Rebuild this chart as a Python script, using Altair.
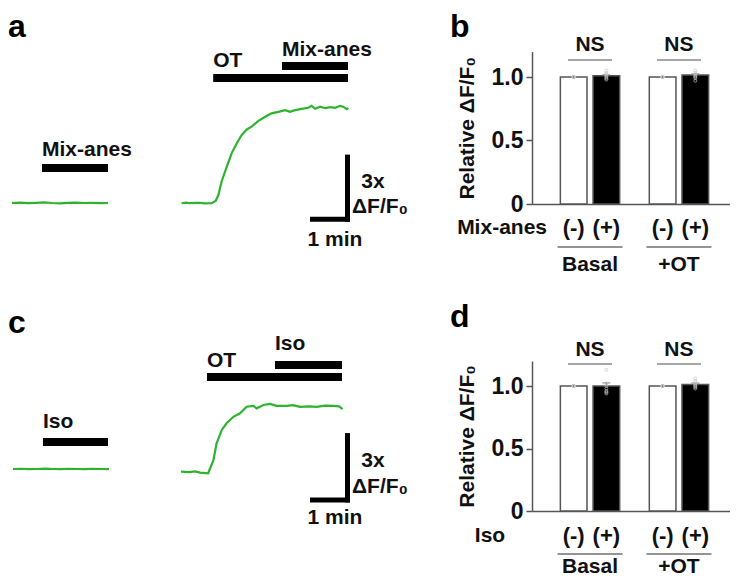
import altair as alt
import pandas as pd

FONT = "Liberation Sans"
INK = "#111111"
GRAY = "#555555"
GREEN = "#2eb32e"
W, H = 722, 568

# ---------------- data ----------------
# panel a : traces (time in min, dF/F0)
a_basal_t = [0.0, 0.2, 0.4, 0.6, 0.8, 1.0, 1.2, 1.4, 1.6, 1.8, 2.0, 2.2, 2.4]
a_basal_v = [0.00, 0.02, -0.01, 0.01, 0.03, 0.00, -0.02, 0.01, 0.02, 0.00, 0.01, -0.01, 0.00]
a_ot_t = [4.24, 4.35, 4.45, 4.575, 4.70, 4.80, 4.99, 5.09, 5.16, 5.24, 5.37, 5.49, 5.62, 5.74,
          5.87, 5.99, 6.16, 6.33, 6.49, 6.66, 6.83, 6.95, 7.08, 7.24, 7.41, 7.49, 7.58, 7.70,
          7.83, 7.95, 8.08, 8.20, 8.28, 8.37, 8.41]
a_ot_v = [-0.01, 0.02, -0.01, 0.01, 0.01, -0.02, -0.01, 0.09, 0.37, 1.00, 1.69, 2.31, 2.78, 3.16,
          3.42, 3.55, 3.82, 4.01, 4.17, 4.24, 4.32, 4.24, 4.32, 4.38, 4.43, 4.52, 4.38, 4.48,
          4.41, 4.46, 4.43, 4.52, 4.48, 4.36, 4.41]
a_drugs = ["Mix-anes", "OT", "Mix-anes"]
a_drug_start = [0.75, 5.03, 6.75]
a_drug_end = [2.40, 8.40, 8.40]

# panel c : traces
c_basal_t = [0.0, 0.2, 0.4, 0.6, 0.8, 1.0, 1.2, 1.4, 1.6, 1.8, 2.0, 2.2, 2.4]
c_basal_v = [0.09, 0.10, 0.08, 0.09, 0.11, 0.09, 0.08, 0.10, 0.09, 0.08, 0.10, 0.09, 0.08]
c_ot_t = [4.20, 4.40, 4.55, 4.675, 4.88, 5.01, 5.09, 5.22, 5.34, 5.51, 5.675, 5.84, 6.01, 6.09,
          6.26, 6.425, 6.59, 6.84, 7.00, 7.175, 7.40, 7.59, 7.80, 8.01, 8.15, 8.24]
c_ot_v = [-0.03, -0.05, -0.02, -0.07, -0.10, 0.49, 1.24, 1.84, 2.14, 2.43, 2.59, 2.88, 2.92, 2.81,
          2.96, 3.01, 2.92, 2.92, 2.95, 2.88, 2.90, 2.88, 2.93, 2.92, 2.90, 2.77]
c_drugs = ["Iso", "OT", "Iso"]
c_drug_start = [0.75, 4.85, 6.55]
c_drug_end = [2.375, 8.225, 8.225]

scale_min = 1.0      # 1 min
scale_df = 3.0       # 3x dF/F0

# bar panels
groups = ["Basal", "+OT"]
conds = ["(-)", "(+)"]
sig = ["NS", "NS"]

b_mean = [1.00, 1.01, 1.00, 1.015]
b_sem = [0.0, 0.008, 0.0, 0.010]
b_pts = [
    [1.0, 1.0, 1.0, 1.0, 1.0, 1.0, 1.0],
    [0.98, 0.99, 1.00, 1.01, 1.02, 1.03, 1.05],
    [1.0, 1.0, 1.0, 1.0, 1.0, 1.0, 1.0],
    [0.97, 0.99, 1.00, 1.01, 1.02, 1.03, 1.05],
]

d_mean = [1.00, 1.00, 1.00, 1.012]
d_sem = [0.0, 0.025, 0.0, 0.012]
d_pts = [
    [1.0, 1.0, 1.0, 1.0, 1.0, 1.0, 1.0],
    [1.13, 1.02, 1.00, 0.98, 0.96, 0.95, 0.94],
    [1.0, 1.0, 1.0, 1.0, 1.0, 1.0, 1.0],
    [1.06, 1.04, 1.02, 1.01, 1.00, 0.99, 0.98],
]

# ---------------- helpers ----------------
def label(txt, x, y, size=21, align="center", baseline="middle", color=INK):
    return alt.Chart(alt.Data(values=[{"t": txt}])).mark_text(
        font=FONT, fontSize=size, fontWeight="bold", align=align, baseline=baseline, color=color
    ).encode(x=alt.value(x), y=alt.value(y), text="t:N")


def trace_panel(bt, bv, ot, ov, drugs, dstart, dend, lanes, lab_ys, t_rng, y0, ppu,
                sb_tend, sb_vb, txt_pos, letter, letter_xy):
    ts = alt.Scale(domain=[0, 10], range=t_rng, nice=False, zero=False)
    vs = alt.Scale(domain=[-4, 6], range=[y0 + 4 * ppu, y0 - 6 * ppu], nice=False, zero=False)
    px_t = (t_rng[1] - t_rng[0]) / 10.0
    df = pd.concat([
        pd.DataFrame({"t": bt, "v": bv, "seg": "basal"}),
        pd.DataFrame({"t": ot, "v": ov, "seg": "ot"}),
    ])
    layers = []
    layers.append(alt.Chart(df).mark_line(color=GREEN, strokeWidth=2.2).encode(
        x=alt.X("t:Q", scale=ts, axis=None),
        y=alt.Y("v:Q", scale=vs, axis=None),
        detail="seg:N"))
    ddf = pd.DataFrame({"drug": drugs, "start": dstart, "end": dend,
                        "lane": lanes, "ly": lab_ys})
    layers.append(alt.Chart(ddf).mark_rule(color="black", strokeWidth=8).encode(
        x=alt.X("start:Q", scale=ts, axis=None), x2="end:Q",
        y=alt.Y("lane:Q", scale=None)))
    layers.append(alt.Chart(ddf).mark_text(font=FONT, fontSize=21, fontWeight="bold",
                                           align="left", baseline="middle", color=INK).encode(
        x=alt.X("start:Q", scale=ts, axis=None),
        y=alt.Y("ly:Q", scale=None), text="drug:N"))
    hs_t = 2.5 / px_t
    hs_v = 2.5 / ppu
    sb = pd.DataFrame({"t0": [sb_tend - scale_min], "t1": [sb_tend], "v": [sb_vb],
                       "tv": [sb_tend - hs_t], "v0": [sb_vb - hs_v], "v1": [sb_vb + scale_df]})
    layers.append(alt.Chart(sb).mark_rule(color="black", strokeWidth=5).encode(
        x=alt.X("t0:Q", scale=ts, axis=None), x2="t1:Q",
        y=alt.Y("v:Q", scale=vs, axis=None)))
    layers.append(alt.Chart(sb).mark_rule(color="black", strokeWidth=5).encode(
        x=alt.X("tv:Q", scale=ts, axis=None),
        y=alt.Y("v0:Q", scale=vs, axis=None), y2="v1:Q"))
    (x3, y3), (xd, yd), (xm, ym) = txt_pos
    layers.append(label("3x", x3, y3))
    layers.append(label("\u0394F/F\u2080", xd, yd))
    layers.append(label("1 min", xm, ym))
    layers.append(label(letter, letter_xy[0], letter_xy[1], size=32, align="left",
                        baseline="alphabetic", color="black"))
    return layers


def bar_panel(means, sems, pts, row_label, row_xy, row_align, y0, ppu, rows, ns_y, ns_line_y,
              letter, letter_xy):
    x_lo, x_hi = 524, 729
    pin, pout = 0.265, 0.285
    step = (x_hi - x_lo) / (2 - pin + 2 * pout)
    bw = step * (1 - pin)
    xsc = alt.Scale(type="band", domain=groups, range=[x_lo, x_hi],
                    paddingInner=pin, paddingOuter=pout)
    xosc = alt.Scale(type="band", domain=conds, range=[0, bw],
                     paddingInner=0.185, paddingOuter=0.0925)
    ysc = alt.Scale(domain=[0, 1.2], range=[y0, y0 - 1.2 * ppu], nice=False, zero=True)

    rows_g = [g for g in groups for _ in conds]
    rows_c = [c for _ in groups for c in conds]
    bdf = pd.DataFrame({"group": rows_g, "cond": rows_c, "mean": means,
                        "hi": [m + s for m, s in zip(means, sems)]})
    pdf = pd.DataFrame([{"group": g, "cond": c, "value": v}
                        for g, c, vals in zip(rows_g, rows_c, pts) for v in vals])

    def X(axis=None):
        return alt.X("group:N", scale=xsc, axis=axis)

    XO = alt.XOffset("cond:N", scale=xosc)

    layers = []
    layers.append(alt.Chart(bdf).mark_bar(stroke=GRAY, strokeWidth=1.5).encode(
        x=X(alt.Axis(orient="bottom", offset=y0 - H, labels=False, ticks=False, title=None,
                     domainColor=GRAY, domainWidth=1.5, grid=False)),
        xOffset=XO,
        y=alt.Y("mean:Q", scale=ysc, axis=alt.Axis(
            orient="left", offset=-x_lo, values=[0, 0.5, 1.0],
            labelExpr="datum.value == 0 ? '0' : format(datum.value, '.1f')",
            tickSize=6, tickWidth=1.5, tickColor=GRAY, domainColor=GRAY, domainWidth=1.5,
            labelFont=FONT, labelFontSize=23, labelFontWeight="bold", labelColor=INK,
            labelPadding=3, grid=False,
            title="Relative \u0394F/F\u2080", titleFont=FONT, titleFontSize=21,
            titleFontWeight="bold", titleColor=INK, titlePadding=14)),
        color=alt.Color("cond:N", scale=alt.Scale(domain=conds, range=["white", "black"]),
                        legend=None)))
    layers.append(alt.Chart(bdf).mark_rule(color="#8a8a8a", strokeWidth=1.5).encode(
        x=X(), xOffset=XO, y=alt.Y("mean:Q", scale=ysc, axis=None), y2="hi:Q"))
    layers.append(alt.Chart(bdf).mark_tick(orient="horizontal", size=8, thickness=1.5,
                                           color="#8a8a8a").encode(
        x=X(), xOffset=XO, y=alt.Y("hi:Q", scale=ysc, axis=None)))
    layers.append(alt.Chart(pdf).mark_point(shape="circle", size=9, filled=False,
                                            color="#c4c4c4", strokeWidth=1).encode(
        x=X(), xOffset=XO, y=alt.Y("value:Q", scale=ysc, axis=None)))
    gdf = pd.DataFrame({"group": groups, "sig": sig})
    layers.append(alt.Chart(gdf).mark_tick(orient="horizontal", size=44, thickness=1.5,
                                           color=GRAY).encode(
        x=X(), y=alt.value(ns_line_y)))
    layers.append(alt.Chart(gdf).mark_text(font=FONT, fontSize=21, fontWeight="bold",
                                           color=INK, baseline="middle").encode(
        x=X(), y=alt.value(ns_y), text="sig:N"))
    cdf = pd.DataFrame({"group": rows_g, "cond": rows_c})
    layers.append(alt.Chart(cdf).mark_text(font=FONT, fontSize=22, fontWeight="bold",
                                           color=INK, baseline="middle").encode(
        x=X(), xOffset=XO, y=alt.value(rows[0]), text="cond:N"))
    layers.append(alt.Chart(gdf).mark_tick(orient="horizontal", size=65, thickness=1.5,
                                           color="#333333").encode(
        x=X(), y=alt.value(rows[1])))
    layers.append(alt.Chart(gdf).mark_text(font=FONT, fontSize=21, fontWeight="bold",
                                           color=INK, baseline="middle").encode(
        x=X(), y=alt.value(rows[2]), text="group:N"))
    layers.append(label(row_label, row_xy[0], row_xy[1], align=row_align))
    layers.append(label(letter, letter_xy[0], letter_xy[1], size=32, align="left",
                        baseline="alphabetic", color="black"))
    return layers


layers = []
layers += trace_panel(a_basal_t, a_basal_v, a_ot_t, a_ot_v, a_drugs, a_drug_start, a_drug_end,
                      lanes=[160, 70, 58], lab_ys=[142, 53, 42], t_rng=[4, 404], y0=195, ppu=21.5,
                      sb_tend=8.45, sb_vb=-0.75,
                      txt_pos=[(365, 174), (372, 199), (327, 232)],
                      letter="a", letter_xy=(0, 29))
layers += trace_panel(c_basal_t, c_basal_v, c_ot_t, c_ot_v, c_drugs, c_drug_start, c_drug_end,
                      lanes=[434, 369, 357], lab_ys=[414, 353, 336], t_rng=[5, 405], y0=463,
                      ppu=22.3, sb_tend=8.425, sb_vb=-1.3,
                      txt_pos=[(365, 453), (372, 479), (327, 510)],
                      letter="c", letter_xy=(0, 325))
layers += bar_panel(b_mean, b_sem, b_pts, "Mix-anes", (539, 220), "right", y0=196, ppu=127,
                    rows=[220, 239, 257], ns_y=37, ns_line_y=52, letter="b",
                    letter_xy=(442, 29))
layers += bar_panel(d_mean, d_sem, d_pts, "Iso", (482, 528), "center", y0=503, ppu=125,
                    rows=[528, 546, 559], ns_y=342, ns_line_y=356, letter="d",
                    letter_xy=(442, 319))

chart = alt.layer(*layers).resolve_scale(
    x="independent", y="independent", xOffset="independent"
).properties(
    width=W, height=H, padding=0, autosize=alt.AutoSizeParams(type="none")
).configure_view(stroke=None)

chart.save("out.html", embed_options={"renderer": "svg", "actions": False})
